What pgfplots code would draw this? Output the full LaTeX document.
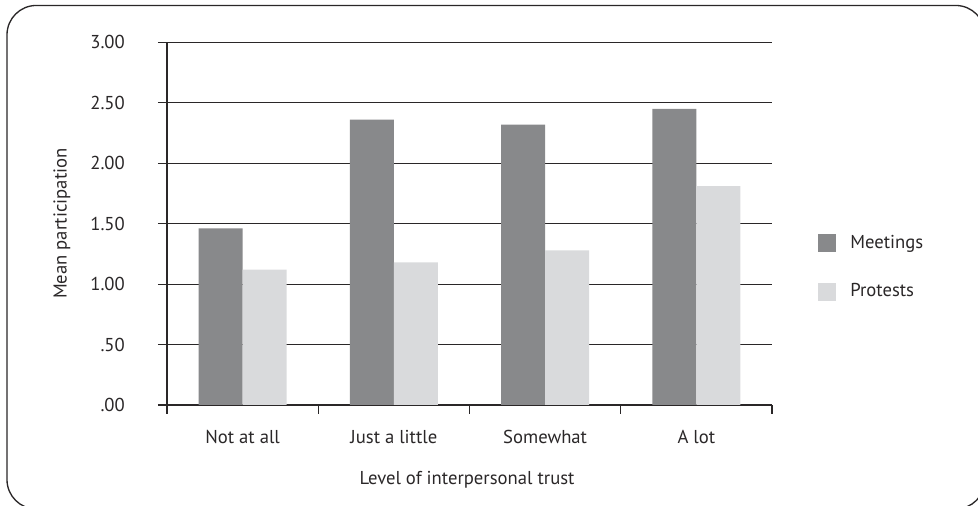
\documentclass[border=0pt]{standalone}
\usepackage{fontspec}
\setmainfont{PT Sans}
\usepackage{pgfplots}
\pgfplotsset{compat=1.18}
\definecolor{meet}{HTML}{88898B}
\definecolor{prot}{HTML}{D9DADC}
\definecolor{ink}{HTML}{2A2728}
\begin{document}
\fontsize{14}{17}\selectfont
\begin{tikzpicture}
\useasboundingbox (0,0) rectangle (733.5pt,379.5pt);
% outer frame, partly cut off by the page edge
\draw[overlay, ink, line width=1pt, rounded corners=22pt] (5.25pt,-2.25pt) rectangle (738.75pt,375.4pt);
\begin{axis}[
  at={(125.25pt,75.75pt)}, anchor=south west,
  scale only axis, width=453.75pt, height=272pt,
  ybar=0pt, bar width=33pt,
  xmin=-0.5, xmax=3.5, ymin=0, ymax=3,
  xtick={-0.5,0.5,1.5,2.5,3.5},
  xticklabels={Not at all,Just a little,Somewhat,A lot},
  x tick label as interval,
  ytick={0,0.5,...,3},
  yticklabels={.00,.50,1.00,1.50,2.00,2.50,3.00},
  ymajorgrids, grid style={ink, line width=0.8pt},
  tick style={ink, line width=0.8pt},
  tick align=outside, major tick length=6.75pt,
  axis x line*=bottom, axis y line*=left,
  axis line style={ink, line width=0.8pt, -},
  yticklabel style={anchor=east, xshift=-20pt},
  xticklabel style={yshift=-7.5pt},
  ticklabel style={text=ink},
  ylabel={Mean participation},
  ylabel style={at={(axis description cs:-0.1736,0.5)}, anchor=center, text=ink},
  xlabel={Level of interpersonal trust},
  xlabel style={at={(axis description cs:0.496,-0.2068)}, anchor=center, text=ink},
  legend style={at={(rel axis cs:1.076,0.472)}, anchor=north west,
    draw=none, fill=none, inner sep=0pt, row sep=23pt,
    nodes={inner sep=0pt, anchor=west, text=ink},
    /tikz/every odd column/.style={column sep=10.5pt}},
  legend cell align=left,
  legend image code/.code={\fill[#1] (0pt,-6.75pt) rectangle (13.5pt,6.75pt);},
]
\addplot[fill=meet, draw=none] coordinates {(0,1.46) (1,2.36) (2,2.32) (3,2.45)};
\addplot[fill=prot, draw=none] coordinates {(0,1.12) (1,1.18) (2,1.28) (3,1.81)};
\legend{Meetings,Protests}
\end{axis}
\end{tikzpicture}
\end{document}
